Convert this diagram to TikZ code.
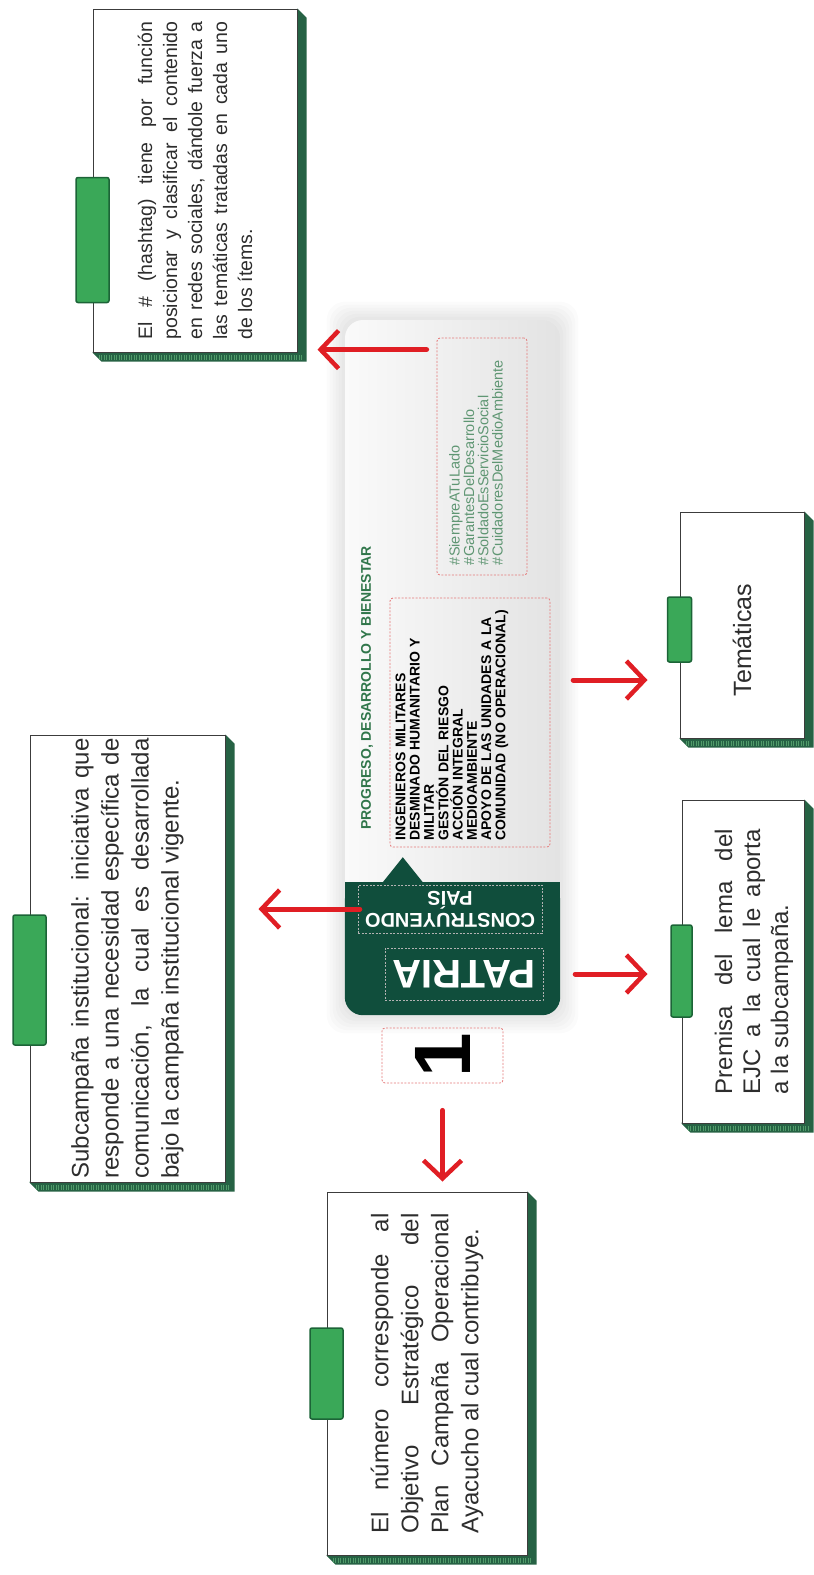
\documentclass[tikz,border=0pt]{standalone}
\usepackage{fontspec}
\setmainfont{Liberation Sans}
\usepackage{tikz}
\usetikzlibrary{arrows.meta, positioning, calc, backgrounds}
\definecolor{cardgreen}{RGB}{16,78,60}
\definecolor{edgegreen}{RGB}{38,98,68}
\definecolor{hatchgreen}{RGB}{80,155,105}
\definecolor{tabgreen}{RGB}{58,168,88}
\definecolor{tabdark}{RGB}{28,100,55}
\definecolor{notegray}{RGB}{60,60,60}
\definecolor{inkgray}{RGB}{45,45,45}
\definecolor{arrowred}{RGB}{224,30,36}
\definecolor{progreen}{RGB}{48,118,74}
\definecolor{hashgreen}{RGB}{95,150,115}
\definecolor{dashred}{RGB}{228,120,120}
\newcommand{\loosepar}{\tolerance=10000\relax\hyphenpenalty=10000\relax}
\tikzset{
    notebox/.style={rectangle, draw=notegray, fill=white, line width=1pt, inner sep=0pt},
    tabbox/.style={rectangle, rounded corners=2pt, draw=tabdark, fill=tabgreen, line width=1.5pt, inner sep=0pt},
    cardbox/.style={rectangle, rounded corners=18pt, left color=gray!4, right color=gray!22, inner sep=0pt},
    dashbox/.style={rectangle, rounded corners=3pt, draw=dashred, dash pattern=on 2pt off 1.5pt, line width=0.8pt, inner sep=0pt},
    greendash/.style={rectangle, draw=gray!60, dash pattern=on 2pt off 1.5pt, line width=0.6pt, inner sep=0pt},
    notetext/.style={rotate=90, align=justify, text=inkgray, inner sep=0pt},
    notearrow/.style={draw=arrowred, line width=5pt, line cap=round, -{Straight Barb[length=18pt, width=38pt, line width=4.5pt]}},
}

\begin{document}
\begin{tikzpicture}[x=1pt, y=-1pt]
    \useasboundingbox (0,0) rectangle (814,1575);

    % tarjeta central
    \node[cardbox, minimum width=215pt, minimum height=695pt] (card) at (452.5,667.5) {};
    \coordinate (gtop) at ([yshift=133pt]card.south west);
    \fill[cardgreen, rounded corners=18pt] (card.south west) rectangle (gtop -| card.east);
    \fill[cardgreen] ($(gtop)+(0,40)$) rectangle (gtop -| card.east);
    \fill[cardgreen] ($(gtop)+(38,0)$) -- ($(gtop)+(58,-25)$) -- ($(gtop)+(78,0)$) -- cycle;

    \node[dashbox, minimum width=160pt, minimum height=249pt] (listbox) at (470,722.5) {};
    \node[dashbox, minimum width=90pt, minimum height=237pt] (hashbox) at (482,456.5) {};
    \node[greendash, minimum width=184pt, minimum height=48pt] (paisbox) at (450,909) {};
    \node[greendash, minimum width=158pt, minimum height=52pt] (patriabox) at (464,974) {};
    \node[dashbox, minimum width=121pt, minimum height=55pt] (numbox) at (442.5,1055.5) {};

    \node[rotate=90, anchor=west, inner sep=0pt, text=progreen, font=\bfseries\fontsize{14}{14}\selectfont] (lema) at (367,830) {PROGRESO, DESARROLLO Y BIENESTAR};
    \node[rotate=90, text width=236pt, align=left, inner sep=0pt, text=black, font=\bfseries\fontsize{14}{14.3}\selectfont] (areas) at ([xshift=-18pt]listbox.center) {\loosepar INGENIEROS MILITARES\\DESMINADO HUMANITARIO Y\\MILITAR\\GESTIÓN DEL RIESGO\\ACCIÓN INTEGRAL\\MEDIOAMBIENTE\\APOYO DE LAS UNIDADES A LA\\COMUNIDAD (NO OPERACIONAL)};
    \node[rotate=90, text width=217pt, align=left, inner sep=0pt, text=hashgreen, font=\fontsize{14.5}{14.3}\selectfont] (hashtags) at ([xshift=-6pt]hashbox.center) {\#SiempreATuLado\\\#GarantesDelDesarrollo\\\#SoldadoEsServicioSocial\\\#CuidadoresDelMedioAmbiente};
    \node[rotate=180, align=center, inner sep=0pt, text=white, font=\bfseries\fontsize{20}{22}\selectfont] (pais) at (paisbox.center) {CONSTRUYENDO\\PAÍS};
    \node[rotate=180, inner sep=0pt, text=white, font=\bfseries\fontsize{40}{40}\selectfont] (patria) at (patriabox.center) {PATRIA};
    \node[rotate=90, inner sep=0pt, text=black, font=\bfseries\fontsize{80}{80}\selectfont] (numero) at (numbox.center) {1};

    % notas
    \node[notebox, minimum width=204pt, minimum height=343pt] (hashnote) at (195,180.5) {};
    \node[notebox, minimum width=195pt, minimum height=447pt] (subnote) at (127.5,958.5) {};
    \node[notebox, minimum width=200pt, minimum height=363pt] (numnote) at (427,1373.5) {};
    \node[notebox, minimum width=122pt, minimum height=323pt] (premnote) at (743,961.5) {};
    \node[notebox, minimum width=124pt, minimum height=226pt] (temnote) at (742,625) {};

    \begin{scope}[on background layer]
        \foreach \s in {3,6,...,18}
            \fill[black, opacity=0.014, rounded corners=18pt] ($(card.south west)+(-\s,\s)$) rectangle ($(card.north east)+(\s,-\s)$);
        \foreach \b in {hashnote,subnote,numnote,premnote,temnote}{
            \fill[edgegreen] (\b.north east) -- ($(\b.north east)+(9,9)$) -- ($(\b.south east)+(9,9)$) -- ($(\b.south west)+(9,9)$) -- (\b.south west) -- cycle;
            \draw[hatchgreen, line width=5pt, dash pattern=on 1pt off 1.5pt] ($(\b.south west)+(6,4.5)$) -- ($(\b.south east)+(4,4.5)$);
        }
    \end{scope}

    \node[tabbox, minimum width=33pt, minimum height=125pt] (hashtab) at ([yshift=-59.5pt]hashnote.west) {};
    \node[tabbox, minimum width=33pt, minimum height=130pt] (subtab) at ([yshift=-21.5pt]subnote.west) {};
    \node[tabbox, minimum width=33pt, minimum height=91pt] (numtab) at (numnote.west) {};
    \node[tabbox, minimum width=21pt, minimum height=92pt] (premtab) at ([yshift=-9.5pt]premnote.west) {};
    \node[tabbox, minimum width=24pt, minimum height=65pt] (temtab) at ([yshift=-4.5pt]temnote.west) {};

    \node[notetext, text width=318pt, font=\fontsize{19.5}{25}\selectfont] (hashtext) at (hashnote.center) {\loosepar El \# (hashtag) tiene por función\linebreak posicionar y clasificar el contenido\linebreak en redes sociales, dándole fuerza a\linebreak las temáticas tratadas en cada uno\linebreak de los ítems.};
    \node[notetext, text width=440pt, font=\fontsize{24}{30}\selectfont] (subtext) at (subnote.center) {\loosepar Subcampaña institucional: iniciativa que\linebreak responde a una necesidad específica de\linebreak comunicación, la cual es desarrollada\linebreak bajo la campaña institucional vigente.};
    \node[notetext, text width=320pt, font=\fontsize{24}{30}\selectfont] (numtext) at (numnote.center) {\loosepar El número corresponde al\linebreak Objetivo Estratégico del\linebreak Plan Campaña Operacional\linebreak Ayacucho al cual contribuye.};
    \node[notetext, text width=265pt, font=\fontsize{24}{28}\selectfont] (premtext) at ([xshift=11pt]premnote.center) {\loosepar Premisa del lema del\linebreak EJC a la cual le aporta\linebreak a la subcampaña.};
    \node[rotate=90, inner sep=0pt, text=inkgray, font=\fontsize{25}{30}\selectfont] (temtext) at ([yshift=-15pt]temnote.center) {Temáticas};

    % flechas
    \coordinate (hashtail) at ([yshift=-12pt]hashbox.north west);
    \coordinate (subtail) at (card.west |- paisbox.center);
    \coordinate (temend) at ([yshift=-55pt]temnote.west);
    \draw[notearrow, shorten <=10pt, shorten >=20pt] (hashtail) -- (hashtail -| hashnote.east);
    \draw[notearrow, shorten <=-15pt, shorten >=33pt] (subtail) -- (subtail -| subnote.east);
    \draw[notearrow, shorten <=27pt, shorten >=10pt] (numbox.south) -- (numbox.south |- numnote.north);
    \draw[notearrow, shorten <=13pt, shorten >=32pt] (card.east |- temend) -- (temend);
    \draw[notearrow, shorten <=15pt, shorten >=34pt] (card.east |- patriabox.center) -- (premnote.west |- patriabox.center);
\end{tikzpicture}
\end{document}
